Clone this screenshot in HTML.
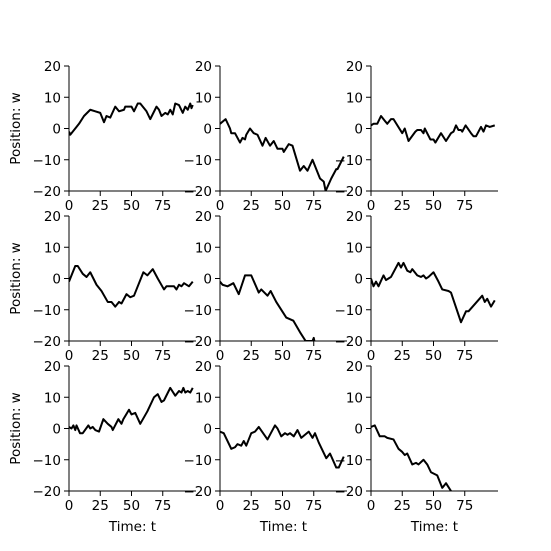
<!DOCTYPE html>
<html><head><meta charset="utf-8"><style>
html,body{margin:0;padding:0;background:#fff}
svg{display:block;font-family:"DejaVu Sans","Liberation Sans",sans-serif}
</style></head><body>
<svg id="chart" width="551" height="551" viewBox="0 0 551 551"></svg>
<script>
const xTicks=[0,25,50,75];
const yTicks=[20,10,0,-10,-20];
const t00=[0,1,5,8,12,17,21,25,28,30,33,37,40,44,45,50,52,55,57,62,65,70,72,74,77,79,81,83,85,88,91,93,95,97,98,99];
const w00=[-1,-2,0,1.5,4,6,5.5,5,2,4,3.5,7,5.5,6,7,7,5.5,8,8,5.5,3,7,6,4,5,4.5,6,4.5,8,7.5,5,7,6,8,6.5,7.5];
const t01=[0,4.5,8,9,12,16,18,20,21,24,27,30,34,36.5,40,43,46,50,51,55,58,64,67,70,74,80,83,84.5,89,93,94,99];
const w01=[1.5,3,0,-1.5,-1.5,-4.5,-3,-3.5,-2,0,-1.5,-2,-5.5,-3,-5.5,-4,-6.5,-6.5,-7.5,-5,-5.5,-13.5,-12,-13.5,-10,-16,-17,-20,-16,-13,-13,-9];
const t02=[0,2,5,8,11,13,16,18,25,27,30,35.5,37,40,42,43,47.5,50,51.5,56,60,64,66,68,70,72,73,75.7,80,82,84,88,90,92,95,99];
const w02=[1,1.5,1.5,4,2.5,1.5,3,3,-1.5,0,-4,-1,-0.5,-0.5,-1.5,0,-3.5,-3.5,-4.5,-1.5,-4,-1.5,-1,1,-0.5,-0.5,-1,1,-1.5,-2.5,-2.5,0.5,-1,1,0.5,1];
const t10=[0,5,7,11,14,17,22,26,31,34,37,40,42,46,49,52,59.5,62.7,67,71,76,78,84,86,88,90,92,96,99];
const w10=[-1,4,4,1.5,0.5,2,-2,-4,-7.5,-7.5,-9,-7.5,-8,-5,-6,-5.5,2,1,3,0,-3.5,-2.5,-2.5,-3.5,-2,-2.5,-1.5,-2.5,-1];
const t11=[0,2,6,10.7,15,20,25,31,33,38,40.5,45,53,58.7,64.5,68.5,74,75,76,80,90,99];
const w11=[-1,-2,-2.5,-1.5,-5,1,1,-4.5,-3.5,-5.5,-4,-7.5,-12.5,-13.5,-17.5,-20,-20,-19,-21,-24,-28,-30];
const t12=[0,2,4,6,10,12,14,16,22,24,26,29,31.5,33,37,40,42,44,46,50,54,57,62,64,72,76,78,89,91,93,96,99];
const w12=[0,-2.5,-1,-2.5,1,-0.5,0,0.5,5,3.5,5,2.5,2,3,1,0.5,1,0,0.5,2,-1,-3.5,-4,-4.5,-14,-10.5,-10.5,-5.5,-7.5,-6.5,-9,-7];
const t20=[0,2,3.5,5,6,8.8,11,15.5,17,19,21,24,27.5,31,34,35,39.5,42,43.5,48,50,53,57,62.7,68,71,74,76,81,85,88,90,91.5,93,95,97,99];
const w20=[0.5,0,1,-0.5,1,-1.5,-1.5,1,0,0.5,-0.5,-1,3,1.5,0.5,-0.5,3,1.5,3,6,4.5,5,1.5,5.5,10,11,8.5,9,13,10.5,12,11.5,13,11.5,12,11.5,13];
const t21=[0,3,9,12,14,17,19,21,25,28,31,38,42,44,46,49,52,54,56,59,62,65,71,74,76,79,85,88,93,95,99];
const w21=[-1,-1.5,-6.5,-6,-5,-5.5,-4,-5.5,-1.5,-1,0.5,-3.5,-0.5,1,0,-2.5,-1.5,-2,-1.5,-2.5,-0.5,-3,-1,-3,-1.5,-4.5,-9.5,-8,-12.5,-12.5,-9];
const t22=[0,3,7,11,13,18,22,25,27,29,33,36,38,42,45,48,53,57,60,64,70,80,99];
const w22=[0.5,1,-2.5,-2.5,-3,-3.5,-6.5,-7.5,-8.5,-8,-11.5,-11,-11.5,-10,-11.5,-14,-15,-19,-17.5,-20,-24,-30,-40];
const panelsT=[t00,t01,t02,t10,t11,t12,t20,t21,t22];
const panelsW=[w00,w01,w02,w10,w11,w12,w20,w21,w22];

const NS="http://www.w3.org/2000/svg";
const svg=document.getElementById('chart');
const lefts=[69,220,371], tops=[66,216,366], W=127, H=125, XMAX=101.6, YMIN=-20, YMAX=20;
function mk(tag,attrs){const e=document.createElementNS(NS,tag);for(const k in attrs)e.setAttribute(k,attrs[k]);return e;}
const defs=mk('defs',{});svg.appendChild(defs);

for(let r=0;r<3;r++)for(let c=0;c<3;c++){
  const i=r*3+c, L=lefts[c], T=tops[r];
  const xs=t=>L+t/XMAX*W, ys=w=>T+(YMAX-w)/(YMAX-YMIN)*H;
  const g=mk('g',{});
  
  
  svg.appendChild(g);
  const cp=mk('clipPath',{id:'cp'+i});cp.appendChild(mk('rect',{x:L,y:T,width:W,height:H}));defs.appendChild(cp);
  const ts=panelsT[i], ws=panelsW[i];
  const d=ts.map((t,k)=>(k?'L':'M')+xs(t).toFixed(2)+' '+ys(ws[k]).toFixed(2)).join(' ');
  const p=mk('path',{d:d,fill:'none',stroke:'#000','stroke-width':2,'stroke-linejoin':'round','clip-path':'url(#cp'+i+')'});
  
  
  g.appendChild(p);
  const sp=mk('path',{d:`M${L} ${T} V${T+H} H${L+W}`,fill:'none',stroke:'#000','stroke-width':1});
  
  
  g.appendChild(sp);
  yTicks.forEach(v=>{
    const y=ys(v);
    g.appendChild(mk('line',{x1:L-5,x2:L,y1:y,y2:y,stroke:'#000','stroke-width':1}));
    const tx=mk('text',{x:L-8,y:y+5,'text-anchor':'end','font-size':13.5});
    
    
    tx.textContent=v<0?'\u2212'+(-v):String(v);g.appendChild(tx);
  });
  xTicks.forEach(v=>{
    const x=xs(v);
    g.appendChild(mk('line',{x1:x,x2:x,y1:T+H,y2:T+H+5,stroke:'#000','stroke-width':1}));
    const tx=mk('text',{x:x,y:T+H+19,'text-anchor':'middle','font-size':13.5});
    
    
    tx.textContent=String(v);g.appendChild(tx);
  });
  if(c===0){
    const yl=mk('text',{x:0,y:0,'text-anchor':'middle','font-size':13.5,transform:`translate(20 ${T+H/2}) rotate(-90)`});
    
    
    yl.textContent='Position: w';g.appendChild(yl);
  }
  if(r===2){
    const xl=mk('text',{x:L+W/2,y:531,'text-anchor':'middle','font-size':13.5});
    
    
    xl.textContent='Time: t';g.appendChild(xl);
  }
}
</script>
</body></html>
